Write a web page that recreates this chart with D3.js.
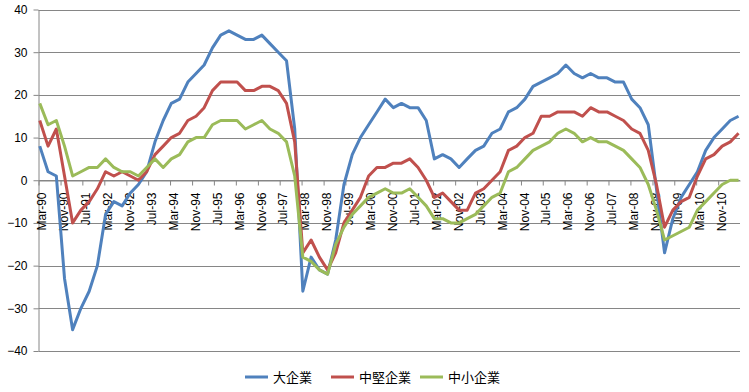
<!DOCTYPE html>
<html>
<head>
<meta charset="utf-8">
<script src="https://cdn.jsdelivr.net/npm/d3@7"></script>
<style>
  body { margin: 0; background: #fff; }
  svg { display: block; }
</style>
</head>
<body>
<div id="chart"></div>
<script>
// 系列名と値（四半期, 1990年3月〜2011年6月）
const seriesNames = ["大企業", "中堅企業", "中小企業"];
const seriesColors = ["#4F81BD", "#C0504D", "#9BBB59"];

const large = [8, 2, 1, -23, -35, -30, -26, -20, -8, -5, -6, -3, -1, 2, 9, 14, 18, 19, 23, 25,
  27, 31, 34, 35, 34, 33, 33, 34, 32, 30, 28, 12, -26, -18, -21, -22, -14, -1, 6, 10,
  13, 16, 19, 17, 18, 17, 17, 14, 5, 6, 5, 3, 5, 7, 8, 11, 12, 16, 17, 19,
  22, 23, 24, 25, 27, 25, 24, 25, 24, 24, 23, 23, 19, 17, 13, -2, -17, -9, -4, -1,
  2, 7, 10, 12, 14, 15];

const medium = [14, 8, 12, 1, -10, -7, -5, -2, 2, 1, 2, 1, 0, 2, 6, 8, 10, 11, 14, 15,
  17, 21, 23, 23, 23, 21, 21, 22, 22, 21, 18, 9, -17, -14, -18, -21, -17, -10, -7, -4,
  1, 3, 3, 4, 4, 5, 3, 0, -4, -3, -5, -7, -7, -3, -2, 0, 2, 7, 8, 10,
  11, 15, 15, 16, 16, 16, 15, 17, 16, 16, 15, 14, 12, 11, 7, -1, -11, -7, -5, -4,
  1, 5, 6, 8, 9, 11];

const small = [18, 13, 14, 8, 1, 2, 3, 3, 5, 3, 2, 2, 1, 3, 5, 3, 5, 6, 9, 10,
  10, 13, 14, 14, 14, 12, 13, 14, 12, 11, 9, 1, -18, -19, -21, -22, -15, -11, -8, -6,
  -4, -3, -2, -3, -3, -2, -4, -6, -9, -9, -10, -10, -9, -8, -6, -4, -3, 2, 3, 5,
  7, 8, 9, 11, 12, 11, 9, 10, 9, 9, 8, 7, 5, 3, -1, -7, -14, -13, -12, -11,
  -7, -5, -3, -1, 0, 0];

const tickLabels = ["Mar-90", "Nov-90", "Jul-91", "Mar-92", "Nov-92", "Jul-93", "Mar-94", "Nov-94",
  "Jul-95", "Mar-96", "Nov-96", "Jul-97", "Mar-98", "Nov-98", "Jul-99", "Mar-00", "Nov-00",
  "Jul-01", "Mar-02", "Nov-02", "Jul-03", "Mar-04", "Nov-04", "Jul-05", "Mar-06", "Nov-06",
  "Jul-07", "Mar-08", "Nov-08", "Jul-09", "Mar-10", "Nov-10"];

const yTicks = [-40, -30, -20, -10, 0, 10, 20, 30, 40];

const width = 749, height = 392;
const margin = { left: 38.5, right: 9, top: 9.5, bottom: 41 };

const svg = d3.select("#chart").append("svg")
  .attr("width", width)
  .attr("height", height);

const parseLabel = d3.timeParse("%b-%y");
const tickDates = tickLabels.map(parseLabel);

// 軸の範囲: Mar-90 〜 Jul-11
const x = d3.scaleTime()
  .domain([new Date(1990, 2, 1), new Date(2011, 6, 1)])
  .range([margin.left, width - margin.right]);

const y = d3.scaleLinear()
  .domain([-40, 40])
  .range([height - margin.bottom, margin.top]);

// 各四半期の日付
const dates = d3.timeMonth.range(new Date(1990, 2, 1), new Date(2011, 6, 1), 3)
  .map(d => d3.timeDay.offset(d, 14));

// 目盛線
svg.append("g")
  .selectAll("line")
  .data(yTicks)
  .enter().append("line")
  .attr("x1", margin.left)
  .attr("x2", width - margin.right)
  .attr("y1", d => Math.round(y(d)) + 0.5)
  .attr("y2", d => Math.round(y(d)) + 0.5)
  .attr("stroke", "#868686")
  .attr("stroke-width", 1);

// Y軸
const yAxis = svg.append("g")
  .attr("transform", `translate(${margin.left},0)`)
  .call(d3.axisLeft(y).tickValues(yTicks).tickSize(5).tickSizeOuter(0));
yAxis.select(".domain").attr("stroke", "#868686");
yAxis.selectAll(".tick line").attr("stroke", "#868686");
yAxis.selectAll(".tick text")
  .attr("x", -11)
  .attr("font-family", "'Liberation Sans', Arial, sans-serif")
  .attr("font-size", "12px")
  .attr("fill", "#000");

// X軸（0の位置）
const xAxis = svg.append("g")
  .attr("transform", `translate(0,${Math.round(y(0)) + 0.5})`)
  .call(d3.axisBottom(x).tickValues(tickDates).tickSize(5).tickSizeOuter(0)
    .tickFormat((d, i) => tickLabels[i]));
xAxis.select(".domain").attr("stroke", "#868686");
xAxis.selectAll(".tick line").attr("stroke", "#868686");
xAxis.selectAll(".tick text")
  .attr("transform", "rotate(-90)")
  .attr("text-anchor", "end")
  .attr("x", -12)
  .attr("y", 3)
  .attr("dy", "0.35em")
  .attr("font-family", "'Liberation Sans', Arial, sans-serif")
  .attr("font-size", "12px")
  .attr("fill", "#000");

// 折れ線
const line = d3.line()
  .x((d, i) => x(dates[i]))
  .y(d => y(d));

[large, medium, small].forEach((values, k) => {
  svg.append("path")
    .datum(values)
    .attr("fill", "none")
    .attr("stroke", seriesColors[k])
    .attr("stroke-width", 3)
    .attr("stroke-linejoin", "round")
    .attr("d", line);
});

// 凡例
const legendX = [245, 331, 420];
const legend = svg.append("g")
  .selectAll("g")
  .data(seriesNames)
  .enter().append("g")
  .attr("transform", (d, i) => `translate(${legendX[i]},377)`);

legend.append("line")
  .attr("x1", 0).attr("x2", 23)
  .attr("y1", 0).attr("y2", 0)
  .attr("stroke", (d, i) => seriesColors[i])
  .attr("stroke-width", 3);

legend.append("text")
  .attr("x", 28)
  .attr("y", 5)
  .attr("font-family", "'Noto Sans CJK JP', sans-serif")
  .attr("font-size", "13px")
  .attr("fill", "#000")
  .text(d => d);
</script>
</body>
</html>
